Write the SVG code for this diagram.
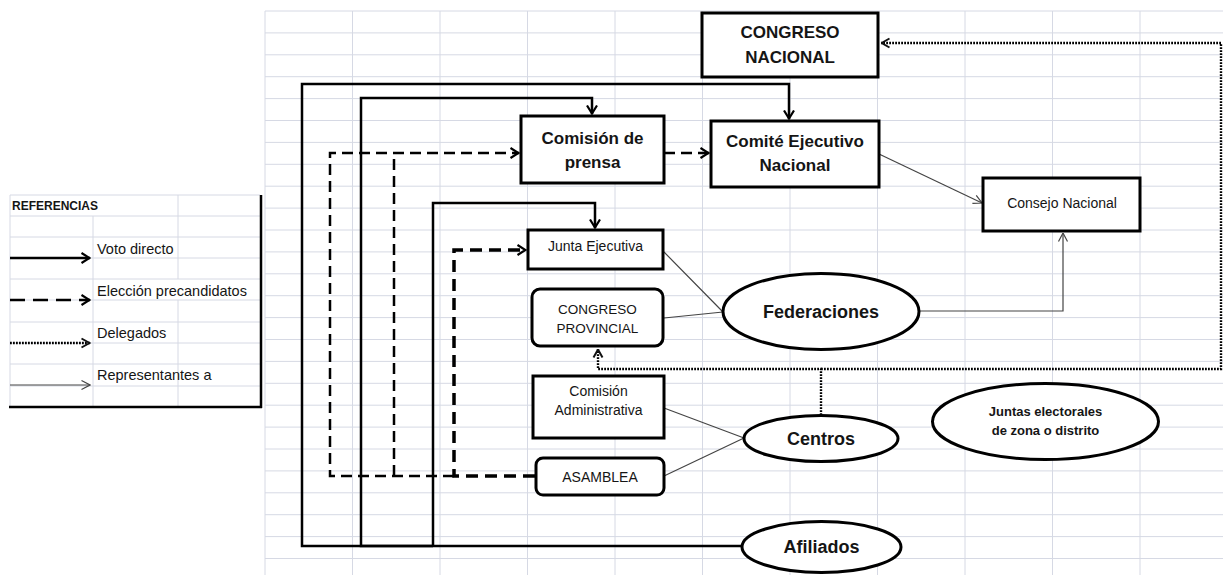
<svg xmlns="http://www.w3.org/2000/svg" width="1223" height="575" viewBox="0 0 1223 575">
<style>
.grid{stroke:#d6d9e4;stroke-width:1;fill:none}
.box{fill:#fff;stroke:#000;stroke-width:3}
.t{font-family:"Liberation Sans",Arial,sans-serif;fill:#151515;text-anchor:middle}
.b{font-weight:bold}
.solid{fill:none;stroke:#000;stroke-width:2.5}
.dash{fill:none;stroke:#000;stroke-width:2.5;stroke-dasharray:11 6}
.dot{fill:none;stroke:#000;stroke-width:2.4;stroke-dasharray:1.8 1.2}
.thin{fill:none;stroke:#444;stroke-width:1.2}
.lt{font-family:"Liberation Sans",Arial,sans-serif;fill:#151515;font-size:14.5px}
</style>
<defs>
<marker id="ah" markerUnits="userSpaceOnUse" viewBox="0 0 10 12" markerWidth="10" markerHeight="12" refX="9.5" refY="6" orient="auto"><path d="M1,1 L9,6 L1,11" fill="none" stroke="#000" stroke-width="2.2"/></marker>
<marker id="ad" markerUnits="userSpaceOnUse" viewBox="0 0 10 12" markerWidth="10" markerHeight="12" refX="9.5" refY="6" orient="auto"><path d="M1,1.5 L9,6 L1,10.5" fill="none" stroke="#111" stroke-width="2"/></marker>
<marker id="at" markerUnits="userSpaceOnUse" viewBox="0 0 10 12" markerWidth="10" markerHeight="12" refX="9.5" refY="6" orient="auto"><path d="M1,1.5 L9.5,6 L1,10.5" fill="none" stroke="#444" stroke-width="1.2"/></marker>
</defs>
<rect x="0" y="0" width="1223" height="575" fill="#fff"/>
<g id="grid">
<path class="grid" d="M265,11V575 M352.5,11V575 M440,11V575 M527.5,11V575 M615,11V575 M702.5,11V575 M790,11V575 M877.5,11V575 M965,11V575 M1052.5,11V575 M1140,11V575
M265,11H1223 M265,32.9H1223 M265,54.8H1223 M265,76.7H1223 M265,98.6H1223 M265,120.5H1223 M265,142.4H1223 M265,164.3H1223 M265,186.2H1223 M265,208.1H1223 M265,230H1223 M265,251.9H1223 M265,273.8H1223 M265,295.7H1223 M265,317.6H1223 M265,339.5H1223 M265,361.4H1223 M265,383.3H1223 M265,405.2H1223 M265,427.1H1223 M265,449H1223 M265,470.9H1223 M265,492.8H1223 M265,514.7H1223 M265,536.6H1223 M265,558.5H1223"/>
</g>
<g id="legend">
<path class="grid" d="M10,195H260 M10,216H260 M10,237H260 M10,258H260 M10,279H260 M10,300H260 M10,322H260 M10,343H260 M10,364H260 M10,386H260 M10,195V407 M93,216V407 M178,195V279 M178,300V407"/>
<path d="M261,195V408 M9,407H262" fill="none" stroke="#000" stroke-width="2.5"/>
<text class="t b" x="12" y="210" style="font-size:12px;text-anchor:start">REFERENCIAS</text>
<path class="solid" d="M10,258H90" marker-end="url(#ah)"/>
<path class="dash" d="M10,300H90" marker-end="url(#ah)" style="stroke-dasharray:15 8"/>
<path class="dot" d="M10,343H90" marker-end="url(#ad)"/>
<path class="thin" d="M10,385H90" marker-end="url(#at)"/>
<text class="lt" x="97" y="254">Voto directo</text>
<text class="lt" x="97" y="296">Elección precandidatos</text>
<text class="lt" x="97" y="338">Delegados</text>
<text class="lt" x="97" y="380">Representantes a</text>
</g>
<g id="connectors">
<path class="solid" d="M742,546H302V84H789V119" marker-end="url(#ah)"/>
<path class="solid" d="M433,546H361V98H592V114" marker-end="url(#ah)"/>
<path class="solid" d="M433,546V203H595V228" marker-end="url(#ah)"/>
<path class="dash" d="M454,476H330V153H519" marker-end="url(#ah)"/>
<path class="dash" d="M394,476V153"/>
<path class="dash" d="M535,476H454V250H526" marker-end="url(#ah)" style="stroke-width:3.5;stroke-dasharray:12 7"/>
<path class="dash" d="M664,153H709" marker-end="url(#ah)"/>
<path class="dot" d="M821,415V369H598V349" marker-end="url(#ad)"/>
<path class="dot" d="M821,369H1221V43H881" marker-end="url(#ad)"/>
<path class="thin" d="M879,154L982,203" marker-end="url(#at)"/>
<path class="thin" d="M919,311H1063V233" marker-end="url(#at)"/>
<path class="thin" d="M664,252L723,312 M664,318L723,312 M664,408L744,438 M664,476L744,438"/>
</g>
<g id="congreso-nacional">
<rect class="box" x="702" y="13" width="176" height="64"/>
<text class="t b" x="790" y="38" font-size="17">CONGRESO</text>
<text class="t b" x="790" y="63" font-size="17">NACIONAL</text>
</g>
<g id="comision-prensa">
<rect class="box" x="521" y="116" width="143" height="67"/>
<text class="t b" x="592.5" y="144" font-size="17">Comisión de</text>
<text class="t b" x="592.5" y="168" font-size="17">prensa</text>
</g>
<g id="comite-ejecutivo">
<rect class="box" x="711" y="121" width="168" height="66"/>
<text class="t b" x="795" y="147" font-size="17">Comité Ejecutivo</text>
<text class="t b" x="795" y="171" font-size="17">Nacional</text>
</g>
<g id="consejo-nacional">
<rect class="box" x="983" y="178" width="157" height="53"/>
<text class="t" x="1062" y="208" font-size="14">Consejo Nacional</text>
</g>
<g id="junta-ejecutiva">
<rect class="box" x="528" y="230" width="135" height="39"/>
<text class="t" x="595.5" y="251" font-size="14">Junta Ejecutiva</text>
</g>
<g id="congreso-provincial">
<rect class="box" x="532" y="289" width="131" height="57" rx="8"/>
<text class="t" x="597.5" y="314" font-size="13.5">CONGRESO</text>
<text class="t" x="597.5" y="333" font-size="13.5">PROVINCIAL</text>
</g>
<g id="federaciones">
<ellipse class="box" cx="821" cy="311.5" rx="98" ry="38"/>
<text class="t b" x="821" y="318" font-size="18">Federaciones</text>
</g>
<g id="comision-administrativa">
<rect class="box" x="533" y="376" width="131" height="62"/>
<text class="t" x="598.5" y="396" font-size="14">Comisión</text>
<text class="t" x="598.5" y="415" font-size="14">Administrativa</text>
</g>
<g id="asamblea">
<rect class="box" x="536" y="458" width="128" height="37" rx="7"/>
<text class="t" x="600" y="482" font-size="14">ASAMBLEA</text>
</g>
<g id="centros">
<ellipse class="box" cx="821" cy="438.5" rx="77" ry="23"/>
<text class="t b" x="821" y="445" font-size="18">Centros</text>
</g>
<g id="juntas-electorales">
<ellipse class="box" cx="1045.5" cy="421.5" rx="113" ry="38"/>
<text class="t b" x="1045.5" y="416" font-size="13">Juntas electorales</text>
<text class="t b" x="1045.5" y="435" font-size="13">de zona o distrito</text>
</g>
<g id="afiliados">
<ellipse class="box" cx="821.5" cy="547" rx="79.5" ry="25.5"/>
<text class="t b" x="821.5" y="553" font-size="18">Afiliados</text>
</g>
</svg>
